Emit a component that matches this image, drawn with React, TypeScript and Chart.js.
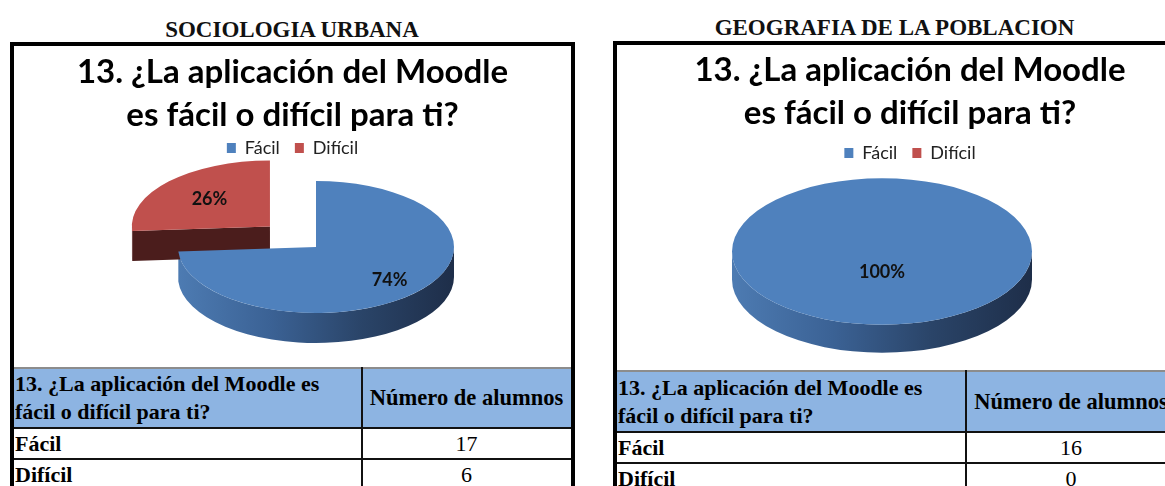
import React, { useEffect, useRef } from 'react';
import { Chart, registerables } from 'chart.js';

Chart.register(...registerables);

// ---------------- data ----------------
const categories = ['Fácil', 'Difícil'];
const sociologiaValues = [17, 6];
const geografiaValues = [16, 0];
const panelTitles = ['SOCIOLOGIA URBANA', 'GEOGRAFIA DE LA POBLACION'];
const chartTitleLines = ['13. ¿La aplicación del Moodle', 'es fácil o difícil para ti?'];
const tableQuestionLines = ['13. ¿La aplicación del Moodle es', 'fácil o difícil para ti?'];
const tableCountHeader = 'Número de alumnos';

// ---------------- styles ----------------
const sliceColors = ['#4F81BD', '#C0504D'];
const sideGradients = [
  ['#4d7bb2', '#3b6295', '#2a4468', '#1e2e49'],
  ['#7a2e2c', '#5a2221', '#3f1716', '#321211'],
];
const faceColors = ['#2b4670', '#4b1d1c'];

const TAU = Math.PI * 2;
const SERIF = '"Liberation Serif", "Times New Roman", serif';
const SANS = 'Lato, "Open Sans", sans-serif';

// Reads the translation the library applies to an exploded arc.
function arcShift(arc: any): [number, number] {
  let tx = 0;
  let ty = 0;
  const noop = () => undefined;
  const rec: any = new Proxy({}, {
    get(_t, p) {
      if (p === 'translate') return (x: number, y: number) => { tx += x; ty += y; };
      return noop;
    },
    set() { return true; },
  });
  try { arc.draw(rec); } catch (e) { /* ignore */ }
  if (!isFinite(tx) || !isFinite(ty)) return [0, 0];
  return [tx, ty];
}

interface Pie3DConfig {
  tilt: number;
  depth: number;
  insetLeft: number;
  insetRight: number;
  labelRadius: number[];
}

function makePie3d(cfg: Pie3DConfig) {
  return {
    id: 'pie3d',
    afterLayout(chart: any) {
      const a = chart.chartArea;
      a.left += cfg.insetLeft;
      a.right -= cfg.insetRight;
      a.width = a.right - a.left;
    },
    beforeDatasetsDraw(chart: any) {
      const ctx: CanvasRenderingContext2D = chart.ctx;
      const arcs = chart.getDatasetMeta(0).data;
      const k = cfg.tilt;
      const d = cfg.depth;
      ctx.save();
      arcs.forEach((arc: any, i: number) => {
        const { x, y, startAngle: s, endAngle: e, outerRadius: r, circumference: c } = arc;
        if (!c || !isFinite(x) || !isFinite(y) || !isFinite(r)) return;
        const [tx, ty] = arcShift(arc);
        const cx = x + tx;
        const cy = y + ty * k;
        const a0 = Math.max(s, 0);
        const a1 = Math.min(e, Math.PI);
        if (a1 > a0) {
          const g = ctx.createLinearGradient(cx - r, 0, cx + r, 0);
          const stops = sideGradients[i];
          stops.forEach((col, j) => g.addColorStop(j / (stops.length - 1), col));
          ctx.beginPath();
          ctx.ellipse(cx, cy, r, r * k, 0, a0, a1, false);
          ctx.ellipse(cx, cy + d, r, r * k, 0, a1, a0, true);
          ctx.closePath();
          ctx.fillStyle = g;
          ctx.fill();
        }
        if (c < TAU - 1e-6) {
          const face = (a: number) => {
            const px = cx + r * Math.cos(a);
            const py = cy + r * k * Math.sin(a);
            ctx.beginPath();
            ctx.moveTo(cx, cy);
            ctx.lineTo(px, py);
            ctx.lineTo(px, py + d);
            ctx.lineTo(cx, cy + d);
            ctx.closePath();
            ctx.fillStyle = faceColors[i];
            ctx.fill();
          };
          if (Math.cos(s) < -1e-6) face(s);
          if (Math.cos(e) > 1e-6) face(e);
        }
      });
      ctx.restore();
      const first = arcs[0];
      ctx.save();
      if (isFinite(first.x) && isFinite(first.y)) {
        ctx.translate(first.x, first.y);
        ctx.scale(1, k);
        ctx.translate(-first.x, -first.y);
      }
    },
    afterDatasetsDraw(chart: any) {
      const ctx: CanvasRenderingContext2D = chart.ctx;
      ctx.restore();
      const arcs = chart.getDatasetMeta(0).data;
      const data: number[] = chart.data.datasets[0].data;
      const total = data.reduce((p, v) => p + v, 0);
      const k = cfg.tilt;
      ctx.save();
      ctx.font = `bold 18px ${SANS}`;
      ctx.fillStyle = '#111';
      ctx.textAlign = 'center';
      ctx.textBaseline = 'middle';
      arcs.forEach((arc: any, i: number) => {
        const { x, y, startAngle: s, endAngle: e, outerRadius: r, circumference: c } = arc;
        if (!c || !total || !isFinite(x) || !isFinite(r)) return;
        const [tx, ty] = arcShift(arc);
        const cx = x + tx;
        const cy = y + ty * k;
        const m = (s + e) / 2;
        const f = cfg.labelRadius[i];
        const pct = Math.round((data[i] / total) * 100) + '%';
        ctx.fillText(pct, cx + r * f * Math.cos(m), cy + r * k * f * Math.sin(m));
      });
      ctx.restore();
    },
  };
}

interface PieProps {
  values: number[];
  width: number;
  height: number;
  radius: number;
  explode: number[];
  tilt: number;
  depth: number;
  insetLeft: number;
  insetRight: number;
  padBottom: number;
  titlePad: { top: number; bottom: number };
  labelRadius: number[];
}

function Pie3D(props: PieProps) {
  const ref = useRef<HTMLCanvasElement>(null);
  useEffect(() => {
    const chart = new Chart(ref.current as HTMLCanvasElement, {
      type: 'pie',
      data: {
        labels: categories,
        datasets: [{
          data: props.values,
          backgroundColor: sliceColors,
          borderWidth: 0,
          offset: props.explode.map((v) => v * 4),
          clip: false as any,
        }],
      },
      options: {
        responsive: false,
        maintainAspectRatio: false,
        animation: false,
        events: [],
        radius: props.radius,
        cutout: '0%',
        layout: { padding: { top: 0, left: 0, right: 0, bottom: props.padBottom } },
        plugins: {
          tooltip: { enabled: false },
          title: {
            display: true,
            text: chartTitleLines,
            color: '#000',
            font: { family: SANS, weight: 'bold', size: 33, lineHeight: 43 / 33 },
            padding: props.titlePad,
          },
          legend: {
            display: true,
            position: 'top',
            labels: {
              color: '#222',
              font: { family: SANS, size: 18 },
              boxWidth: 9,
              boxHeight: 10,
              padding: 15,
            },
          },
        },
      } as any,
      plugins: [makePie3d({
        tilt: props.tilt,
        depth: props.depth,
        insetLeft: props.insetLeft,
        insetRight: props.insetRight,
        labelRadius: props.labelRadius,
      })],
    });
    return () => chart.destroy();
  }, []);
  return (
    <canvas
      ref={ref}
      width={props.width}
      height={props.height}
      style={{ display: 'block', width: props.width, height: props.height }}
    />
  );
}

interface TableProps {
  left: number;
  top: number;
  col1: number;
  col2: number;
  headerH: number;
  rowH: number;
  values: number[];
}

function DataTable(p: TableProps) {
  const base: React.CSSProperties = {
    position: 'absolute',
    boxSizing: 'border-box',
    fontFamily: SERIF,
    fontSize: 22,
    color: '#000',
    whiteSpace: 'nowrap',
    overflow: 'hidden',
  };
  const totalW = p.col1 + p.col2;
  const rows = categories.map((cat, i) => {
    const y = p.top + p.headerH + i * p.rowH;
    return (
      <React.Fragment key={cat}>
        <div style={{ ...base, left: p.left, top: y, width: totalW, height: p.rowH, borderBottom: '2px solid #111' }} />
        <div style={{ ...base, left: p.left + 1, top: y, width: p.col1, height: p.rowH, lineHeight: p.rowH - 2 + 'px', fontWeight: 'bold' }}>{cat}</div>
        <div style={{ ...base, left: p.left + p.col1, top: y, width: p.col2, height: p.rowH, lineHeight: p.rowH - 2 + 'px', textAlign: 'center' }}>{p.values[i]}</div>
      </React.Fragment>
    );
  });
  return (
    <>
      <div style={{ ...base, left: p.left, top: p.top, width: totalW, height: p.headerH, background: '#8DB4E2', borderTop: '2px solid #8c8c8c', borderBottom: '2px solid #111' }} />
      <div style={{ ...base, left: p.left + 1, top: p.top, width: p.col1 - 2, height: p.headerH, fontWeight: 'bold', lineHeight: '28px', display: 'flex', flexDirection: 'column', justifyContent: 'center' }}>
        {tableQuestionLines.map((l) => <div key={l}>{l}</div>)}
      </div>
      <div style={{ ...base, left: p.left + p.col1, top: p.top, width: p.col2, height: p.headerH, fontWeight: 'bold', display: 'flex', alignItems: 'center', justifyContent: 'center', fontSize: 22.5, overflow: 'visible' }}>{tableCountHeader}</div>
      {rows}
      <div style={{ position: 'absolute', left: p.left + p.col1 - 1, top: p.top, width: 2, height: p.headerH + p.rowH * categories.length + 40, background: '#111' }} />
    </>
  );
}

export default function App() {
  const heading: React.CSSProperties = {
    position: 'absolute',
    fontFamily: SERIF,
    fontWeight: 'bold',
    fontSize: 23,
    lineHeight: '26px',
    textAlign: 'center',
    color: '#111',
    whiteSpace: 'nowrap',
  };
  const box: React.CSSProperties = {
    position: 'absolute',
    boxSizing: 'border-box',
    border: '4px solid #000',
    height: 480,
  };
  return (
    <div style={{ position: 'absolute', left: 0, top: 0, width: 1165, height: 486, overflow: 'hidden', background: '#fff' }}>
      <div style={{ ...heading, left: 0, top: 17, width: 584 }}>{panelTitles[0]}</div>
      <div style={{ ...heading, left: 594, top: 15, width: 601 }}>{panelTitles[1]}</div>

      <div style={{ ...box, left: 10, top: 42, width: 565 }} />
      <div style={{ ...box, left: 613, top: 41, width: 594 }} />

      <div style={{ position: 'absolute', left: 14, top: 46 }}>
        <Pie3D
          values={sociologiaValues}
          width={557}
          height={321}
          radius={138}
          explode={[0, 63]}
          tilt={0.478}
          depth={30}
          insetLeft={47}
          insetRight={0}
          padBottom={40}
          titlePad={{ top: 4.5, bottom: -12.5 }}
          labelRadius={[0.73, 0.6]}
        />
      </div>
      <div style={{ position: 'absolute', left: 617, top: 45 }}>
        <Pie3D
          values={geografiaValues}
          width={586}
          height={325}
          radius={150}
          explode={[0, 0]}
          tilt={0.488}
          depth={28}
          insetLeft={0}
          insetRight={56}
          padBottom={39}
          titlePad={{ top: 3.5, bottom: -5.5 }}
          labelRadius={[0.28, 0.5]}
        />
      </div>

      <DataTable left={14} top={367} col1={348} col2={209} headerH={62} rowH={31} values={sociologiaValues} />
      <DataTable left={617} top={370} col1={349} col2={210} headerH={63} rowH={31} values={geografiaValues} />
    </div>
  );
}
